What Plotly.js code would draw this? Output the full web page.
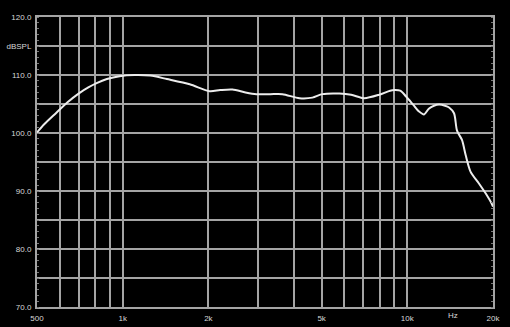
<!DOCTYPE html>
<html>
<head>
<meta charset="utf-8">
<script src="https://cdn.plot.ly/plotly-3.0.1.min.js"></script>
<style>html,body{margin:0;padding:0;background:#000;}#chart{width:510px;height:327px;}</style>
</head>
<body>
<div id="chart"></div>
<script>
// Frequency response (Hz, dB SPL)
const freqHz = [500, 530, 585, 640, 700, 760, 810, 880, 975, 1100, 1250, 1430, 1720, 2020, 2200, 2430, 2700, 2950, 3300, 3640, 4180, 4640, 5030, 5770, 6350, 7050, 7970, 8700, 9000, 9440, 9900, 10480, 11000, 11450, 11900, 12400, 12930, 13570, 14020, 14590, 14950, 15560, 16030, 16690, 17850, 18840, 19800, 20000];
const splDb  = [100.1, 101.5, 103.5, 105.3, 106.8, 107.9, 108.6, 109.3, 109.8, 110.0, 109.9, 109.3, 108.4, 107.2, 107.4, 107.5, 107.0, 106.7, 106.7, 106.7, 106.0, 106.1, 106.7, 106.8, 106.6, 106.0, 106.6, 107.3, 107.4, 107.3, 106.3, 104.9, 103.7, 103.2, 104.2, 104.7, 104.9, 104.7, 104.4, 103.4, 100.4, 98.8, 96.2, 93.3, 91.3, 89.6, 87.8, 87.3];

const yTickVals = [70, 75, 80, 85, 90, 95, 100, 105, 110, 115, 120];
const yTickText = ["70.0", "", "80.0", "", "90.0", "", "100.0", "", "110.0", "dBSPL", "120.0"];
const xTickVals = [500, 600, 700, 800, 900, 1000, 2000, 3000, 4000, 5000, 6000, 7000, 8000, 9000, 10000, 20000];
const xTickText = ["500", "", "", "", "", "1k", "2k", "", "", "5k", "", "", "", "", "10k", "20k"];
const unitLabel = "Hz";
const unitLabelFreq = 14500;

const gridCol = "#a4a4a4";
const tickFont = {family: "Liberation Sans, Arial, sans-serif", size: 8, color: "#d8d8d8"};

Plotly.newPlot("chart", [{
  x: freqHz, y: splDb, type: "scatter", mode: "lines",
  line: {color: "#ececec", width: 2, shape: "spline", smoothing: 0.8},
  hoverinfo: "skip"
}], {
  width: 510, height: 327,
  margin: {l: 37, r: 17, t: 17, b: 20, pad: 0},
  paper_bgcolor: "#000", plot_bgcolor: "#000",
  showlegend: false,
  xaxis: {
    type: "log", range: [Math.log10(500), Math.log10(20000)],
    tickmode: "array", tickvals: xTickVals, ticktext: xTickText,
    showgrid: true, gridcolor: gridCol, gridwidth: 2,
    showline: true, linecolor: gridCol, linewidth: 2, mirror: true,
    ticks: "", tickfont: tickFont, zeroline: false, ticklabelstandoff: 2
  },
  yaxis: {
    range: [70, 120],
    tickmode: "array", tickvals: yTickVals, ticktext: yTickText,
    showgrid: true, gridcolor: gridCol, gridwidth: 2,
    showline: true, linecolor: gridCol, linewidth: 2, mirror: "ticks",
    ticks: "", tickfont: tickFont, zeroline: false, ticklabelstandoff: 2,
    minor: {ticks: "inside", ticklen: 2, dtick: 1, tickcolor: "#777", showgrid: false}
  },
  annotations: [{
    x: Math.log10(unitLabelFreq), y: 0, xref: "x", yref: "paper",
    yanchor: "top", yshift: -2, text: unitLabel, showarrow: false,
    font: tickFont
  }]
}, {displayModeBar: false, staticPlot: true});
</script>
</body>
</html>
